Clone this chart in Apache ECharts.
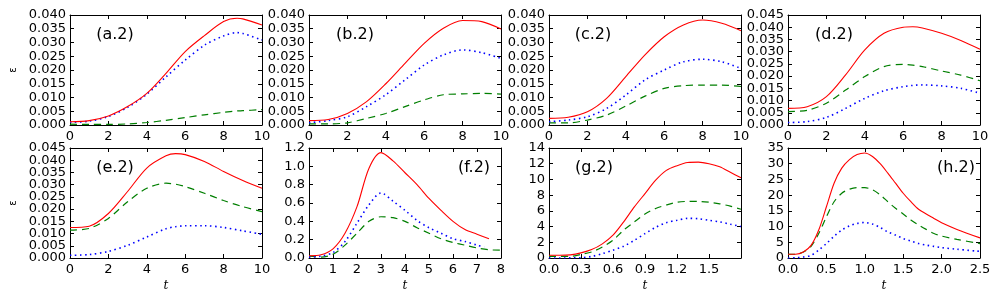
<!DOCTYPE html>
<html>
<head>
<meta charset="utf-8">
<script src="https://cdn.jsdelivr.net/npm/echarts@6/dist/echarts.min.js"></script>
<style>html,body{margin:0;padding:0;background:#fff;}#c{width:1000px;height:300px;}</style>
</head>
<body>
<div id="c"></div>
<script>
// ---- data ----
const tA = [0,1,2,3,4,5,6,7,8,8.7,9,10];
const redA   = [0.0012,0.0016,0.0033,0.0067,0.0115,0.0188,0.0267,0.0325,0.0376,0.0388,0.0386,0.0364];
const blueA  = [0.0010,0.0014,0.0031,0.0064,0.0112,0.0175,0.0236,0.0290,0.0324,0.0336,0.0333,0.0309];
const greenA = [0.0003,0.0002,0.0002,0.0004,0.0009,0.0017,0.0027,0.0037,0.0046,0.0051,0.0052,0.0056];

const tB = [0,1,2,3,4,5,6,7,8,9,10];
const redB   = [0.0016,0.0020,0.0042,0.0085,0.0150,0.0224,0.0297,0.0352,0.0380,0.0376,0.0349];
const blueB  = [0.0008,0.0016,0.0030,0.0067,0.0110,0.0164,0.0218,0.0255,0.0273,0.0263,0.0242];
const greenB = [0.0004,0.0004,0.0008,0.0024,0.0042,0.0067,0.0091,0.0110,0.0113,0.0115,0.0112];

const tC = [0,1,2,3,4,5,6,7,8,9,10];
const redC   = [0.0024,0.0028,0.0048,0.0097,0.0176,0.0255,0.0321,0.0364,0.0382,0.0370,0.0343];
const blueC  = [0.0012,0.0018,0.0030,0.0060,0.0109,0.0164,0.0200,0.0230,0.0239,0.0230,0.0206];
const greenC = [0.0008,0.0008,0.0018,0.0036,0.0069,0.0105,0.0133,0.0143,0.0145,0.0145,0.0140];

const tD = [0,1,2,3,4,5,6,6.5,7,8,9,10];
const redD   = [0.0068,0.0075,0.0116,0.0205,0.0307,0.0375,0.0400,0.0402,0.0397,0.0375,0.0346,0.0310];
const greenD = [0.0055,0.0060,0.0089,0.0143,0.0198,0.0239,0.0248,0.0245,0.0239,0.0221,0.0204,0.0181];
const blueD  = [0.0010,0.0014,0.0031,0.0068,0.0109,0.0140,0.0157,0.0162,0.0164,0.0160,0.0150,0.0130];

const tE = [0,1,2,3,4,5,5.5,6,7,8,9,10];
const redE   = [0.0125,0.0130,0.0182,0.0272,0.0368,0.0418,0.0427,0.0423,0.0395,0.0354,0.0317,0.0285];
const greenE = [0.0114,0.0121,0.0162,0.0230,0.0285,0.0306,0.0302,0.0292,0.0265,0.0235,0.0210,0.0190];
const blueE  = [0.0011,0.0014,0.0027,0.0052,0.0086,0.0120,0.0128,0.0132,0.0132,0.0125,0.0111,0.0097];

const tFred   = [0,0.5,1,1.5,2,2.5,3,3.5,4,4.5,5,5.5,6,6.5,7,7.5];
const redF    = [0.025,0.035,0.10,0.27,0.56,0.98,1.15,1.06,0.93,0.80,0.65,0.52,0.40,0.31,0.26,0.21];
const tFblue  = [0,0.5,1,1.5,2,2.5,3,3.5,4,4.5,5,5.5,6,6.5,7,7.3];
const blueF   = [0.01,0.02,0.06,0.18,0.38,0.58,0.71,0.62,0.52,0.41,0.33,0.27,0.21,0.18,0.14,0.12];
const tFgreen = [0,0.5,1,1.5,2,2.5,3,3.5,4,4.5,5,5.5,6,6.5,7,7.5,8];
const greenF  = [0.02,0.01,0.04,0.14,0.27,0.40,0.45,0.44,0.40,0.33,0.27,0.21,0.17,0.14,0.11,0.09,0.085];

const tG = [0,0.1,0.2,0.3,0.4,0.5,0.6,0.7,0.8,0.9,1.0,1.1,1.2,1.3,1.4,1.5,1.6,1.7,1.8];
const redG   = [0.35,0.35,0.40,0.65,1.07,1.8,2.9,4.6,6.5,8.2,9.9,11.15,11.75,12.15,12.2,12.0,11.6,10.9,10.2];
const greenG = [0.2,0.2,0.2,0.47,0.77,1.4,2.26,3.55,4.6,5.6,6.3,6.75,7.1,7.2,7.2,7.1,6.9,6.6,6.2];
const blueG  = [0.0,0.0,0.02,0.04,0.2,0.55,1.0,1.5,2.25,3.1,3.9,4.5,4.8,5.05,5.0,4.8,4.6,4.3,4.0];

const tH = [0,0.1,0.2,0.3,0.4,0.5,0.6,0.7,0.8,0.9,1.0,1.1,1.2,1.3,1.4,1.5,1.6,1.7,1.8,1.9,2.0,2.2,2.5];
const redH   = [1.2,1.2,1.9,4.0,8.9,16.3,23.8,28.6,31.3,32.9,33.4,32.3,30.0,27.0,23.8,20.6,17.9,15.5,14.0,12.6,11.2,9.1,6.4];
const greenH = [1.2,1.2,1.9,3.7,7.8,13.1,17.9,20.6,21.9,22.4,22.4,21.7,20.1,17.9,15.8,14.0,12.1,10.5,9.1,7.8,7.0,5.9,4.6];
const blueH  = [0,0.1,0.3,0.85,2.5,4.6,6.9,8.9,10.2,11.0,11.3,10.8,9.7,8.3,7.3,6.2,5.4,4.6,4.1,3.7,3.3,2.8,2.1];

const panelLabels = ['(a.2)','(b.2)','(c.2)','(d.2)','(e.2)','(f.2)','(g.2)','(h.2)'];

// axis limits per panel: [min,max,interval]
const xLimits = [[0,10,2],[0,10,2],[0,10,2],[0,10,2],[0,10,2],[0,8,1],[0,1.8,0.3],[0,2.5,0.5]];
const yLimits = [[0,0.04,0.005],[0,0.04,0.005],[0,0.04,0.005],[0,0.045,0.005],[0,0.045,0.005],[0,1.2,0.2],[0,14,2],[0,35,5]];
const xDecimals = [0,0,0,0,0,0,1,1];
const yDecimals = [3,3,3,3,3,1,0,0];

// ---- build ----
const zip = (xs, ys) => xs.map((x, i) => [x, ys[i]]);
const panels = [
  {red: zip(tA,redA), blue: zip(tA,blueA), green: zip(tA,greenA)},
  {red: zip(tB,redB), blue: zip(tB,blueB), green: zip(tB,greenB)},
  {red: zip(tC,redC), blue: zip(tC,blueC), green: zip(tC,greenC)},
  {red: zip(tD,redD), blue: zip(tD,blueD), green: zip(tD,greenD)},
  {red: zip(tE,redE), blue: zip(tE,blueE), green: zip(tE,greenE)},
  {red: zip(tFred,redF), blue: zip(tFblue,blueF), green: zip(tFgreen,greenF)},
  {red: zip(tG,redG), blue: zip(tG,blueG), green: zip(tG,greenG)},
  {red: zip(tH,redH), blue: zip(tH,blueH), green: zip(tH,greenH)}
];

const lefts = [70, 309, 549, 788];
const tops = [15, 148];
const W = 192, H = 110;
const FONT = 'DejaVu Sans';

const grids = [], xAxes = [], yAxes = [], series = [], graphics = [];
const labelPos = [[115,35],[355,35],[593,35],[834,35],[115,168],[474,168],[594,168],[956,168]];

for (let i = 0; i < 8; i++) {
  const row = Math.floor(i / 4), col = i % 4;
  grids.push({left: lefts[col], top: tops[row], width: W, height: H, containLabel: false});
  const [xmin,xmax,xint] = xLimits[i];
  const [ymin,ymax,yint] = yLimits[i];
  const axLine = {show: true, onZero: false, lineStyle: {color: '#000', width: 1}};
  const axTick = {show: true, inside: true, length: 4, lineStyle: {color: '#000', width: 1}};
  const xd = xDecimals[i], yd = yDecimals[i];
  const lblStyle = {color: '#000', fontSize: 13, fontFamily: FONT};
  xAxes.push({
    type: 'value', gridIndex: i, position: 'bottom', min: xmin, max: xmax, interval: xint,
    axisLine: axLine, axisTick: axTick, splitLine: {show: false},
    axisLabel: Object.assign({show: true, margin: 5, showMinLabel: true, showMaxLabel: true,
      formatter: v => (i === 6 && v > 1.75) ? '' : v.toFixed(xd)}, lblStyle),
    name: row === 1 ? 't' : '', nameLocation: 'middle', nameGap: 22,
    nameTextStyle: {fontFamily: 'DejaVu Serif', fontStyle: 'italic', fontSize: 12, color: '#000'}
  });
  xAxes.push({
    type: 'value', gridIndex: i, position: 'top', min: xmin, max: xmax, interval: xint,
    axisLine: axLine, axisTick: axTick, splitLine: {show: false}, axisLabel: {show: false}
  });
  const eps = yint * 0.01;
  // main left axis: inner tick labels (min / max labels drawn by a companion axis)
  yAxes.push({
    type: 'value', gridIndex: i, position: 'left', min: ymin, max: ymax, interval: yint,
    axisLine: axLine, axisTick: axTick, splitLine: {show: false},
    axisLabel: Object.assign({show: true, margin: 4, showMinLabel: true, showMaxLabel: true,
      formatter: v => (Math.abs(v - ymin) < eps || Math.abs(v - ymax) < eps) ? '' : v.toFixed(yd)}, lblStyle),
    name: col === 0 ? 'ε' : '', nameLocation: 'middle', nameGap: 52, nameRotate: 90,
    nameTextStyle: {fontFamily: FONT, fontSize: 10, color: '#000'}
  });
  yAxes.push({
    type: 'value', gridIndex: i, position: 'right', min: ymin, max: ymax, interval: yint,
    axisLine: axLine, axisTick: axTick, splitLine: {show: false}, axisLabel: {show: false}
  });
  // companion left axis: only min and max labels
  yAxes.push({
    type: 'value', gridIndex: i, position: 'left', offset: 0, min: ymin, max: ymax, interval: ymax - ymin,
    axisLine: {show: false}, axisTick: {show: false}, splitLine: {show: false},
    axisLabel: Object.assign({show: true, margin: 4, showMinLabel: true, showMaxLabel: true,
      formatter: v => v.toFixed(yd)}, lblStyle)
  });
  const p = panels[i];
  const common = {type: 'line', xAxisIndex: 2*i, yAxisIndex: 3*i, showSymbol: false, symbol: 'none',
    smooth: 0.3, animation: false, silent: true};
  series.push(Object.assign({}, common, {name: 'red'+i, data: p.red, z: 4,
    lineStyle: {color: '#ff0000', width: 1.1, type: 'solid'}}));
  series.push(Object.assign({}, common, {name: 'blue'+i, data: p.blue, z: 3,
    lineStyle: {color: '#0000ff', width: 1.6, type: [1.5, 3.5]}}));
  series.push(Object.assign({}, common, {name: 'green'+i, data: p.green, z: 2,
    lineStyle: {color: '#007f00', width: 1.2, type: [7, 5]}}));
  graphics.push({type: 'text', x: labelPos[i][0], y: labelPos[i][1], z: 10,
    style: {text: panelLabels[i], font: '16px "DejaVu Sans"', fill: '#000', align: 'center', verticalAlign: 'middle'}});
}

const chart = echarts.init(document.getElementById('c'), null, {renderer: 'canvas'});
chart.setOption({
  animation: false,
  backgroundColor: '#fff',
  grid: grids, xAxis: xAxes, yAxis: yAxes, series: series, graphic: graphics
});
</script>
</body>
</html>
